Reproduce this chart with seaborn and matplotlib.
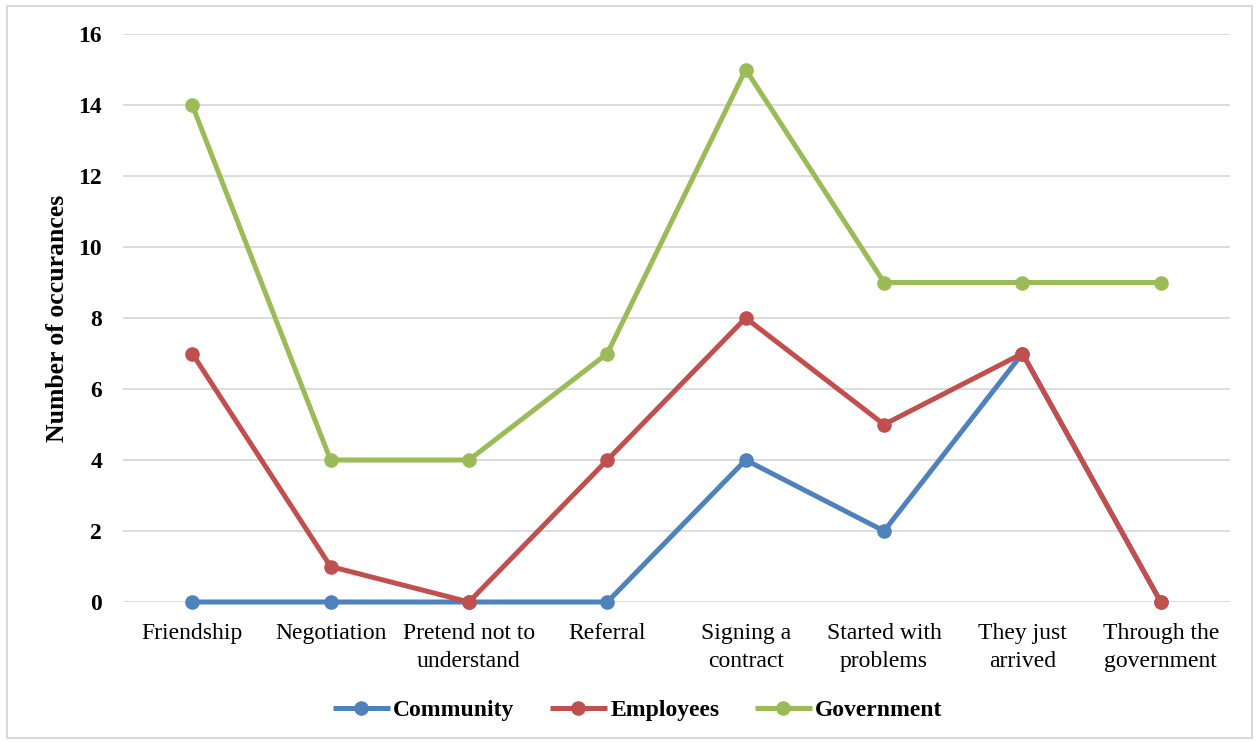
import matplotlib
matplotlib.use("Agg")
import matplotlib.pyplot as plt
import seaborn as sns
import pandas as pd
from matplotlib.patches import Rectangle
from matplotlib.lines import Line2D

categories = ["Friendship", "Negotiation", "Pretend not to\nunderstand", "Referral",
              "Signing a\ncontract", "Started with\nproblems", "They just\narrived",
              "Through the\ngovernment"]
community = [0, 0, 0, 0, 4, 2, 7, 0]
employees = [7, 1, 0, 4, 8, 5, 7, 0]
government = [14, 4, 4, 7, 15, 9, 9, 9]
series_names = ["Community", "Employees", "Government"]
colors = ["#4F81BD", "#C0504D", "#9BBB59"]
y_ticks = [0, 2, 4, 6, 8, 10, 12, 14, 16]

rows = []
for name, vals in zip(series_names, [community, employees, government]):
    for i, v in enumerate(vals):
        rows.append({"pos": i, "series": name, "value": v})
df = pd.DataFrame(rows)

sns.set_theme(style="white")
plt.rcParams["font.family"] = ["Liberation Serif", "DejaVu Serif"]
for key in ["text.color", "axes.labelcolor", "xtick.color", "ytick.color"]:
    plt.rcParams[key] = "black"

fig = plt.figure(figsize=(12.58, 7.42), dpi=100)
ax = fig.add_axes([123 / 1258, 1 - 602 / 742, (1230 - 123) / 1258, (602 - 34) / 742])

sns.lineplot(data=df, x="pos", y="value", hue="series", palette=colors,
             hue_order=series_names, marker="o", markersize=10.5, linewidth=3.6,
             markeredgewidth=0, sort=False, ax=ax, legend=False)
for ln in ax.lines:
    ln.set_clip_on(False)

ax.set_xlim(-0.5, len(categories) - 0.5)
ax.set_ylim(0, 16)
ax.set_yticks(y_ticks)
ax.set_yticklabels([str(t) for t in y_ticks], fontsize=17, fontweight="bold")
ax.set_xticks(range(len(categories)))
ax.set_xticklabels(categories, fontsize=17, linespacing=1.45, va="top")
ax.tick_params(axis="x", length=0, pad=15)
ax.tick_params(axis="y", length=0, pad=15)
ax.grid(axis="y", color="#D9D9D9", linewidth=1.3)
ax.set_axisbelow(True)
for s in ax.spines.values():
    s.set_visible(False)
ax.set_xlabel("")
ax.set_ylabel("Number of occurances", fontsize=18.5, fontweight="bold", labelpad=7)

handles = [Line2D([0], [0], color=c, linewidth=3.6, marker="o", markersize=10.5,
                  markeredgewidth=0, solid_capstyle="butt") for c in colors]
fig.legend(handles, series_names, loc="center", bbox_to_anchor=(0.507, 1 - 710 / 742),
           ncol=3, frameon=False, handlelength=2.4, columnspacing=1.5, handletextpad=0.15,
           prop={"family": "Liberation Serif", "weight": "bold", "size": 17})

fig.patches.append(Rectangle((7 / 1258, 4 / 742), 1245 / 1258, 732 / 742,
                             transform=fig.transFigure, fill=False,
                             edgecolor="#D9D9D9", linewidth=1.5))

fig.savefig("out.png", dpi=100)
